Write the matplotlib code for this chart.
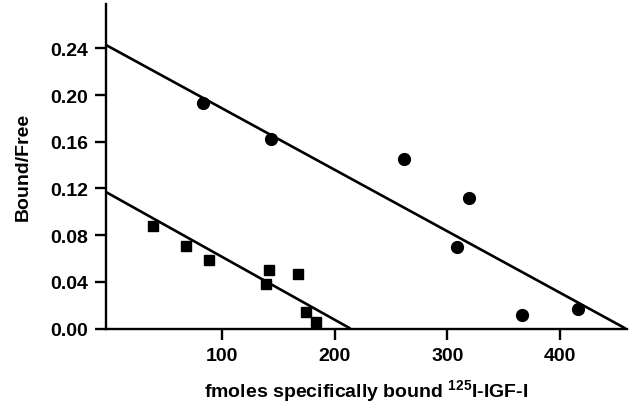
import matplotlib
matplotlib.use("Agg")
import matplotlib.pyplot as plt
import numpy as np
from matplotlib import rcParams

# high-affinity sites (circles)
circle_x = [83, 144, 262, 309, 319, 366, 416]
circle_y = [0.193, 0.162, 0.145, 0.070, 0.112, 0.012, 0.017]

# low-capacity sites (squares)
square_x = [39, 68, 89, 139, 142, 168, 175, 184]
square_y = [0.088, 0.071, 0.059, 0.038, 0.050, 0.047, 0.014, 0.006]

# regression lines: (y-intercept, x-intercept)
upper_fit = (0.2415, 458)
lower_fit = (0.1155, 214)

x_ticks = [100, 200, 300, 400]
y_ticks = [0.00, 0.04, 0.08, 0.12, 0.16, 0.20, 0.24]

rcParams["font.family"] = ["Liberation Sans", "DejaVu Sans"]
rcParams["font.weight"] = "bold"
rcParams["font.size"] = 14
rcParams["mathtext.fontset"] = "custom"
rcParams["mathtext.rm"] = "Liberation Sans:bold"
rcParams["mathtext.default"] = "rm"

fig = plt.figure(figsize=(6.31, 4.06), dpi=100)
ax = fig.add_axes([0.168, 0.1884, 0.8257, 0.7993])

xmin, xmax = -2.6, 459.3
ymin, ymax = 0.0, 0.278

for b, x0 in (upper_fit, lower_fit):
    xs = np.array([xmin, x0])
    ax.plot(xs, b * (1 - xs / x0), color="black", lw=1.9, solid_capstyle="butt",
            clip_on=False)

ax.plot(circle_x, circle_y, "o", color="black", ms=8.5, clip_on=False)
ax.plot(square_x, square_y, "s", color="black", ms=6.5, clip_on=False)

ax.set_xlim(xmin, xmax)
ax.set_ylim(ymin, ymax)
ax.set_xticks(x_ticks)
ax.set_yticks(y_ticks)
ax.set_yticklabels([f"{v:.2f}" for v in y_ticks])

for side in ("top", "right"):
    ax.spines[side].set_visible(False)
for side in ("left", "bottom"):
    ax.spines[side].set_linewidth(1.7)

ax.tick_params(direction="out", length=8, width=1.7, pad=5, labelsize=14)

ax.set_xlabel("fmoles specifically bound $^{125}$I-IGF-I", fontweight="bold",
              fontsize=14, labelpad=10)
ax.set_ylabel("Bound/Free", fontweight="bold", fontsize=14, labelpad=13)

fig.savefig("out.png", dpi=100)
